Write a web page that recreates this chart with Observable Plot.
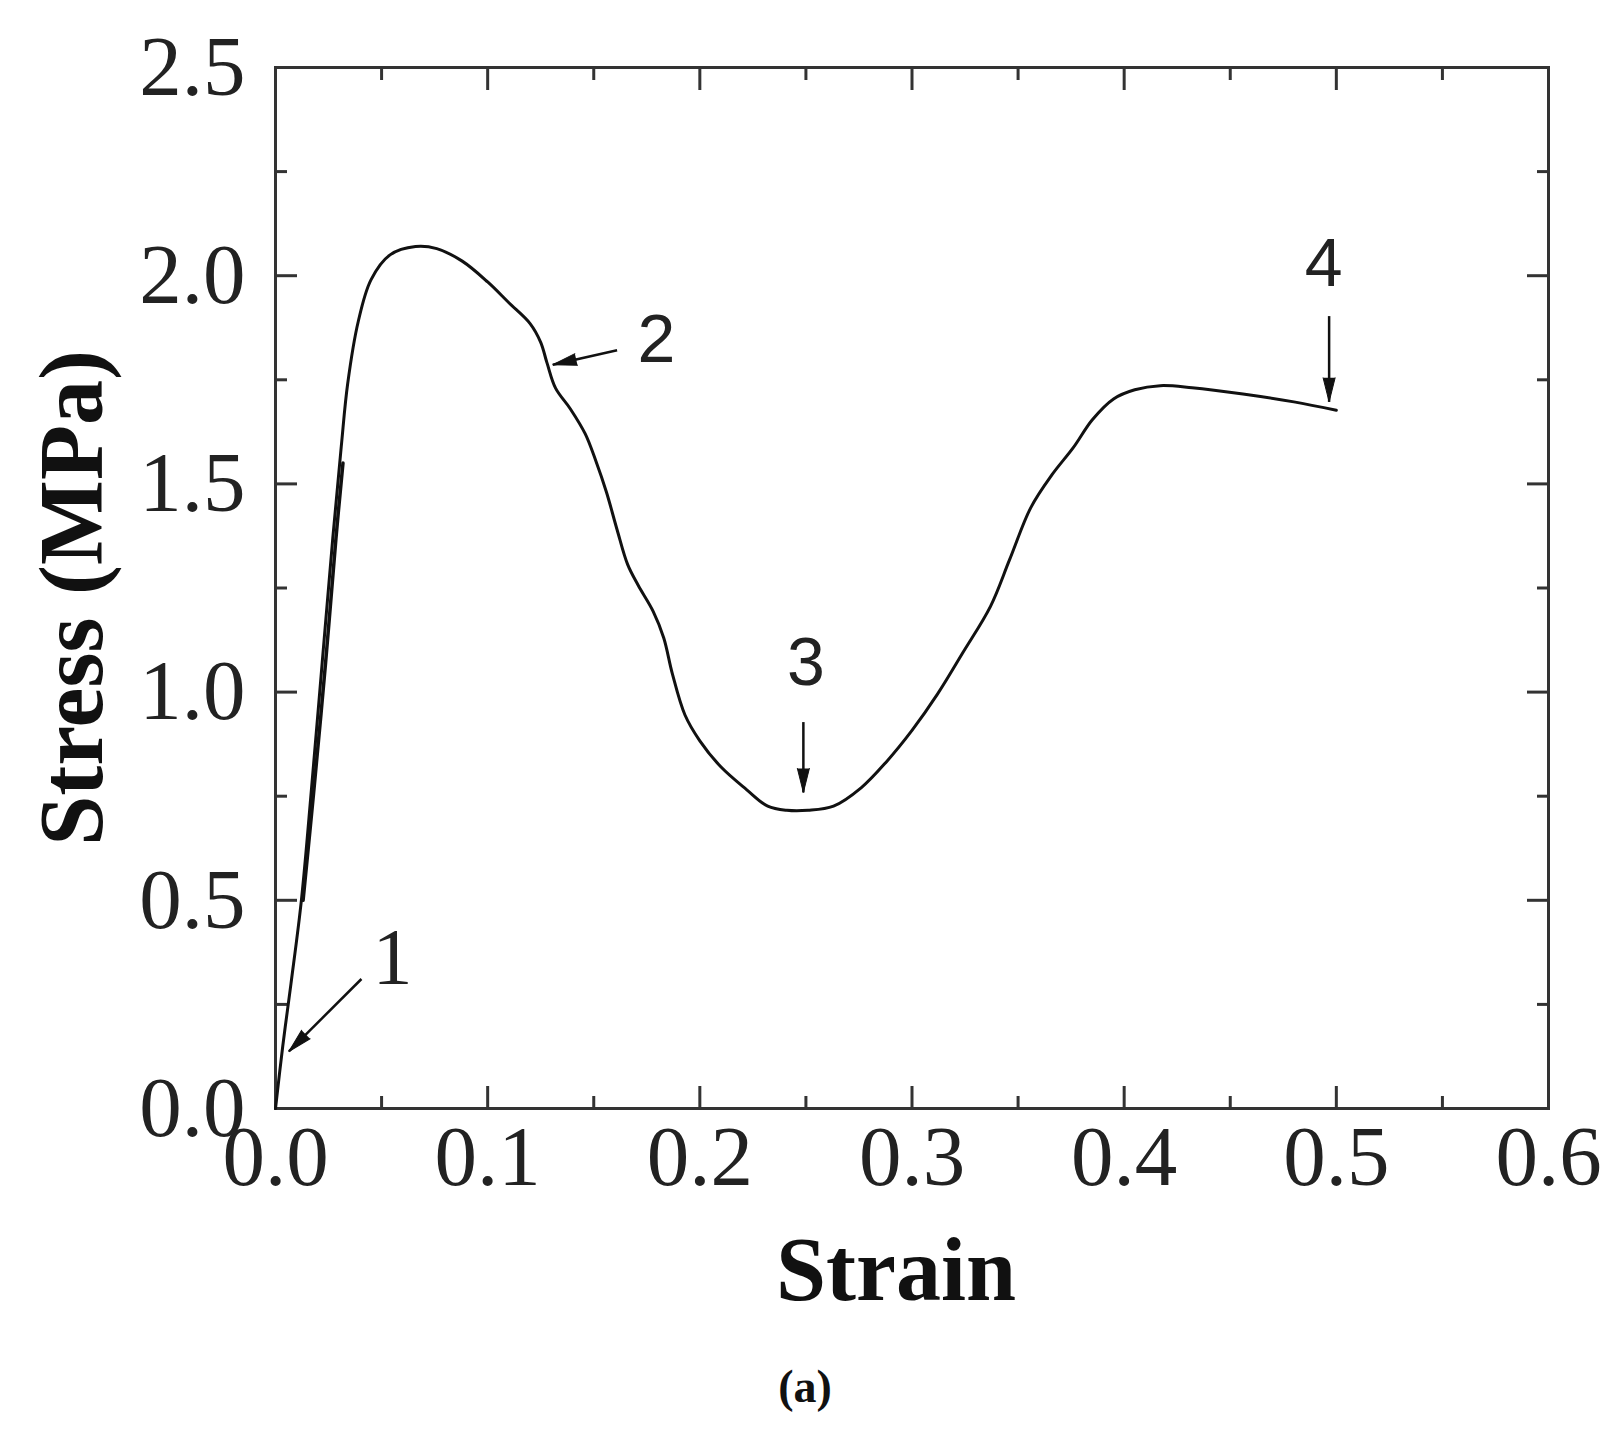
<!DOCTYPE html>
<html><head><meta charset="utf-8">
<script src="https://cdn.jsdelivr.net/npm/d3@7"></script>
<script src="https://cdn.jsdelivr.net/npm/@observablehq/plot@0.6"></script>
<style>body{margin:0;background:#fff}</style>
</head><body><div id="chart"></div>
<script>
// Main stress–strain curve
const strain = [0, 0.0034, 0.0073, 0.0122, 0.017, 0.022, 0.027, 0.031, 0.034, 0.039, 0.045, 0.054, 0.066, 0.076, 0.088, 0.100, 0.110, 0.120, 0.125, 0.128, 0.132, 0.139, 0.146, 0.151, 0.156, 0.161, 0.166, 0.171, 0.178, 0.183, 0.187, 0.193, 0.200, 0.210, 0.222, 0.232, 0.241, 0.251, 0.263, 0.276, 0.288, 0.300, 0.312, 0.324, 0.337, 0.346, 0.356, 0.366, 0.376, 0.385, 0.395, 0.405, 0.417, 0.432, 0.456, 0.480, 0.500];
const stress = [0, 0.149, 0.30, 0.50, 0.77, 1.07, 1.37, 1.59, 1.74, 1.89, 1.99, 2.05, 2.07, 2.065, 2.035, 1.985, 1.935, 1.885, 1.84, 1.79, 1.73, 1.68, 1.62, 1.555, 1.48, 1.39, 1.306, 1.256, 1.194, 1.13, 1.045, 0.945, 0.883, 0.82, 0.766, 0.726, 0.716, 0.716, 0.726, 0.77, 0.833, 0.908, 0.995, 1.095, 1.206, 1.318, 1.443, 1.522, 1.587, 1.654, 1.704, 1.726, 1.736, 1.731, 1.716, 1.697, 1.677];
// Reloading branch overlapping the initial rise
const reloadStrain = [0.0130, 0.0180, 0.0236, 0.0285, 0.0318];
const reloadStress = [0.50, 0.76, 1.07, 1.37, 1.55];

// Axis ticks
const xMajor = [0, 0.1, 0.2, 0.3, 0.4, 0.5, 0.6];
const xMinor = [0.05, 0.15, 0.25, 0.35, 0.45, 0.55];
const yMajor = [0, 0.5, 1.0, 1.5, 2.0, 2.5];
const yMinor = [0.25, 0.75, 1.25, 1.75, 2.25];

// Annotations
const annText = ["1", "2", "3", "4"];
const annX = [0.0551, 0.1795, 0.250, 0.494];
const annY = [0.361, 1.846, 1.070, 2.027];
const annFont = ["Liberation Serif", "Liberation Sans", "Liberation Sans", "Liberation Sans"];
const arrX1 = [0.0405, 0.161, 0.2488, 0.4966];
const arrY1 = [0.311, 1.821, 0.928, 1.903];
const arrX2 = [0.0063, 0.1307, 0.2488, 0.4966];
const arrY2 = [0.137, 1.786, 0.759, 1.697];

const W = 1623, H = 1437, ML = 275, MR = 75, MT = 67, MB = 329;
const kx = (W - ML - MR) / 0.6, ky = (H - MT - MB) / 2.5;

const curve = strain.map((x, i) => ({x, y: stress[i]}));
const reload = reloadStrain.map((x, i) => ({x, y: reloadStress[i]}));
const ann = annText.map((t, i) => ({t, x: annX[i], y: annY[i], f: annFont[i]}));
const arrows = arrX1.map((x1, i) => {
  const dxp = (arrX2[i] - x1) * kx, dyp = -(arrY2[i] - arrY1[i]) * ky;
  return {x1, y1: arrY1[i], x2: arrX2[i], y2: arrY2[i], rot: Math.atan2(dxp, -dyp) * 180 / Math.PI};
});

const axisColor = "#333";
const serif = "Liberation Serif";

const chart = Plot.plot({
  width: W, height: H,
  marginLeft: ML, marginRight: MR, marginTop: MT, marginBottom: MB,
  x: {domain: [0, 0.6], axis: null},
  y: {domain: [0, 2.5], axis: null},
  style: {fontFamily: serif, background: "#fff", color: "#222"},
  marks: [
    // inward ticks on all four sides
    Plot.axisX(xMajor, {anchor: "bottom", tickSize: -22, fill: "none", stroke: axisColor, strokeWidth: 3}),
    Plot.axisX(xMinor, {anchor: "bottom", tickSize: -12, fill: "none", stroke: axisColor, strokeWidth: 3}),
    Plot.axisX(xMajor, {anchor: "top", tickSize: -22, fill: "none", stroke: axisColor, strokeWidth: 3}),
    Plot.axisX(xMinor, {anchor: "top", tickSize: -12, fill: "none", stroke: axisColor, strokeWidth: 3}),
    Plot.axisY(yMajor, {anchor: "left", tickSize: -22, fill: "none", stroke: axisColor, strokeWidth: 3}),
    Plot.axisY(yMinor, {anchor: "left", tickSize: -12, fill: "none", stroke: axisColor, strokeWidth: 3}),
    Plot.axisY(yMajor, {anchor: "right", tickSize: -22, fill: "none", stroke: axisColor, strokeWidth: 3}),
    Plot.axisY(yMinor, {anchor: "right", tickSize: -12, fill: "none", stroke: axisColor, strokeWidth: 3}),
    // tick labels
    Plot.axisX(xMajor, {anchor: "bottom", tickSize: 0, tickPadding: 16, tickFormat: d3.format(".1f"), fontSize: 85, fontFamily: serif, fill: "#222", label: null}),
    Plot.axisY(yMajor, {anchor: "left", tickSize: 0, tickPadding: 30, tickFormat: d3.format(".1f"), fontSize: 85, fontFamily: serif, fill: "#222", label: null}),
    Plot.frame({stroke: axisColor, strokeWidth: 3}),
    // curve
    Plot.line(curve, {x: "x", y: "y", stroke: "#111", strokeWidth: 3, curve: "catmull-rom"}),
    Plot.line(reload, {x: "x", y: "y", stroke: "#111", strokeWidth: 3.5, curve: "catmull-rom"}),
    // annotation arrows
    Plot.link(arrows, {x1: "x1", y1: "y1", x2: "x2", y2: "y2", stroke: "#111", strokeWidth: 2.5}),
    Plot.vector(arrows, {x: "x2", y: "y2", rotate: "rot", length: 24, r: 6, anchor: "end", shape: "spike", fill: "#111", stroke: "#111", strokeWidth: 1}),
    Plot.text(ann.filter(d => d.f === serif), {x: "x", y: "y", text: "t", fontSize: 80, fontFamily: serif, fill: "#222"}),
    Plot.text(ann.filter(d => d.f !== serif), {x: "x", y: "y", text: "t", fontSize: 68, fontFamily: "Liberation Sans", fill: "#222"}),
    // axis titles
    Plot.text(["Strain"], {frameAnchor: "bottom", dx: -16, dy: 191, lineAnchor: "bottom", fontSize: 90, fontWeight: "bold", fontFamily: serif, fill: "#111"}),
    Plot.text(["Stress (MPa)"], {frameAnchor: "left", textAnchor: "middle", dx: -202, dy: 10, rotate: -90, fontSize: 90, fontWeight: "bold", fontFamily: serif, fill: "#111"}),
    Plot.text(["(a)"], {frameAnchor: "bottom", dx: -107, dy: 293, lineAnchor: "bottom", fontSize: 46, fontWeight: "bold", fontFamily: serif, fill: "#111"})
  ]
});
document.getElementById("chart").appendChild(chart);
</script>
</body></html>
